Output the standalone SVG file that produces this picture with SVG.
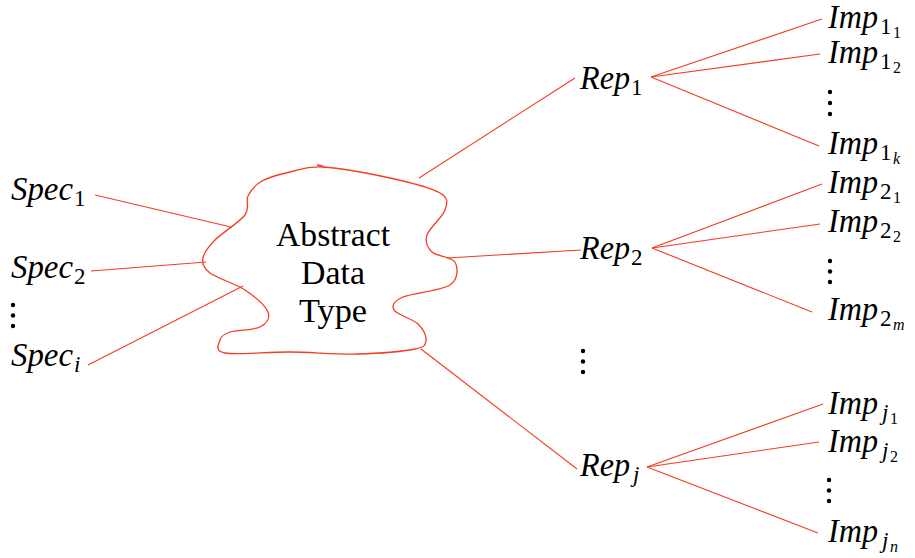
<svg xmlns="http://www.w3.org/2000/svg" width="915" height="558" viewBox="0 0 915 558">
<style>
.ln{stroke:#f53d23;stroke-width:1.1;fill:none}
.cl{stroke:#f53d23;stroke-width:1.3;fill:none}
text{font-family:'Liberation Serif','Tinos','Times New Roman','DejaVu Serif',serif;fill:#000}
.m{font-style:italic;font-size:33px}
.s{font-size:23px}
.si{font-style:italic;font-size:23px}
.ss{font-size:16px}
.ssi{font-style:italic;font-size:16px}
.r{font-size:33px;text-anchor:middle}
.d{fill:#000}
</style>
<rect width="915" height="558" fill="#fff"/>
<g id="connectors">
<line class="ln" x1="95" y1="195" x2="231" y2="227"/>
<line class="ln" x1="91" y1="271" x2="206" y2="262"/>
<line class="ln" x1="88" y1="365" x2="243" y2="286"/>
<line class="ln" x1="419" y1="178" x2="575" y2="78"/>
<line class="ln" x1="447" y1="258" x2="581" y2="250"/>
<line class="ln" x1="421" y1="349" x2="577" y2="469"/>
<line class="ln" x1="651" y1="77" x2="822" y2="19"/>
<line class="ln" x1="651" y1="77" x2="820" y2="54"/>
<line class="ln" x1="651" y1="77" x2="819" y2="146"/>
<line class="ln" x1="652" y1="248" x2="822" y2="184"/>
<line class="ln" x1="652" y1="248" x2="820" y2="224"/>
<line class="ln" x1="652" y1="248" x2="812" y2="312"/>
<line class="ln" x1="647" y1="467" x2="823" y2="404"/>
<line class="ln" x1="647" y1="467" x2="819" y2="442"/>
<line class="ln" x1="647" y1="467" x2="818" y2="533"/>
</g>
<g id="adt">
<path class="cl" d="M323,167 C339.7,168 370.5,173.7 390,178 C409.5,182.3 430.8,187.7 440,193 C449.2,198.3 447.2,203 445,210 C442.8,217 429.2,228 427,235 C424.8,242 427.3,247.5 432,252 C436.7,256.5 452,256.5 455,262 C458,267.5 458.7,279.2 450,285 C441.3,290.8 412.3,292.8 403,297 C393.7,301.2 391.5,305.5 394,310 C396.5,314.5 412.7,319 418,324 C423.3,329 426.5,335.8 426,340 C425.5,344.2 426.5,346.7 415,349 C403.5,351.3 377.8,353.5 357,354 C336.2,354.5 312,352.2 290,352 C268,351.8 236.7,355 225,353 C213.3,351 219.2,343.5 220,340 C220.8,336.5 223.3,334.2 230,332 C236.7,329.8 253.7,330.3 260,327 C266.3,323.7 270.5,318.2 268,312 C265.5,305.8 254.7,296.5 245,290 C235.3,283.5 217,278.3 210,273 C203,267.7 202.2,263.5 203,258 C203.8,252.5 208,247.2 215,240 C222,232.8 239.5,222.3 245,215 C250.5,207.7 245.2,201.7 248,196 C250.8,190.3 255,185 262,181 C269,177 279.8,174.3 290,172 C300.2,169.7 306.3,166 323,167 Z"/>
<path class="cl" d="M317,165 Q322,165 325,168"/>
<text class="r" x="333" y="246" textLength="114" lengthAdjust="spacingAndGlyphs">Abstract</text>
<text class="r" x="333" y="284" textLength="64" lengthAdjust="spacingAndGlyphs">Data</text>
<text class="r" x="333" y="322" textLength="68" lengthAdjust="spacingAndGlyphs">Type</text>
</g>
<g id="spec1"><text class="m" x="11" y="200" textLength="62" lengthAdjust="spacingAndGlyphs">Spec</text><text class="s" x="74" y="206">1</text></g>
<g id="spec2"><text class="m" x="11" y="278" textLength="62" lengthAdjust="spacingAndGlyphs">Spec</text><text class="s" x="74" y="284">2</text></g>
<g id="spec-dots"><circle class="d" cx="13" cy="305" r="2.2"/><circle class="d" cx="13" cy="315.5" r="2.2"/><circle class="d" cx="13" cy="326" r="2.2"/></g>
<g id="speci"><text class="m" x="11" y="366" textLength="62" lengthAdjust="spacingAndGlyphs">Spec</text><text class="si" x="74" y="372">i</text></g>
<g id="rep1"><text class="m" x="580" y="89" textLength="50" lengthAdjust="spacingAndGlyphs">Rep</text><text class="s" x="631" y="95">1</text></g>
<g id="rep2"><text class="m" x="580" y="259" textLength="50" lengthAdjust="spacingAndGlyphs">Rep</text><text class="s" x="631" y="265">2</text></g>
<g id="rep-dots"><circle class="d" cx="583" cy="351" r="2.2"/><circle class="d" cx="583" cy="361.5" r="2.2"/><circle class="d" cx="583" cy="372" r="2.2"/></g>
<g id="repj"><text class="m" x="580" y="476" textLength="50" lengthAdjust="spacingAndGlyphs">Rep</text><text class="si" x="633" y="482">j</text></g>
<g id="imp11"><text class="m" x="828" y="28" textLength="50" lengthAdjust="spacingAndGlyphs">Imp</text><text class="s" x="880" y="34">1</text><text class="ss" x="893" y="38">1</text></g>
<g id="imp12"><text class="m" x="828" y="63" textLength="50" lengthAdjust="spacingAndGlyphs">Imp</text><text class="s" x="880" y="69">1</text><text class="ss" x="893" y="73">2</text></g>
<g id="imp1-dots"><circle class="d" cx="830" cy="92" r="2.2"/><circle class="d" cx="830" cy="103" r="2.2"/><circle class="d" cx="830" cy="114" r="2.2"/></g>
<g id="imp1k"><text class="m" x="828" y="154" textLength="50" lengthAdjust="spacingAndGlyphs">Imp</text><text class="s" x="880" y="160">1</text><text class="ssi" x="893" y="164">k</text></g>
<g id="imp21"><text class="m" x="828" y="193" textLength="50" lengthAdjust="spacingAndGlyphs">Imp</text><text class="s" x="880" y="199">2</text><text class="ss" x="893" y="203">1</text></g>
<g id="imp22"><text class="m" x="828" y="232" textLength="50" lengthAdjust="spacingAndGlyphs">Imp</text><text class="s" x="880" y="238">2</text><text class="ss" x="893" y="242">2</text></g>
<g id="imp2-dots"><circle class="d" cx="830" cy="261" r="2.2"/><circle class="d" cx="830" cy="271.5" r="2.2"/><circle class="d" cx="830" cy="282" r="2.2"/></g>
<g id="imp2m"><text class="m" x="828" y="320" textLength="50" lengthAdjust="spacingAndGlyphs">Imp</text><text class="s" x="880" y="326">2</text><text class="ssi" x="893" y="330">m</text></g>
<g id="impj1"><text class="m" x="828" y="414" textLength="50" lengthAdjust="spacingAndGlyphs">Imp</text><text class="si" x="882" y="420">j</text><text class="ss" x="890" y="424">1</text></g>
<g id="impj2"><text class="m" x="828" y="452" textLength="50" lengthAdjust="spacingAndGlyphs">Imp</text><text class="si" x="882" y="458">j</text><text class="ss" x="890" y="462">2</text></g>
<g id="impj-dots"><circle class="d" cx="829" cy="480" r="2.2"/><circle class="d" cx="829" cy="490.5" r="2.2"/><circle class="d" cx="829" cy="501" r="2.2"/></g>
<g id="impjn"><text class="m" x="828" y="542" textLength="50" lengthAdjust="spacingAndGlyphs">Imp</text><text class="si" x="882" y="548">j</text><text class="ssi" x="890" y="552">n</text></g>
</svg>
